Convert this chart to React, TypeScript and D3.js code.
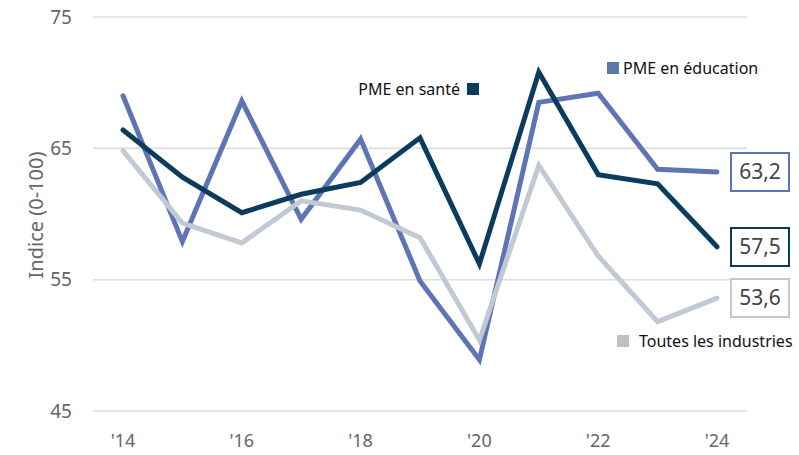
import React from "react";
import * as d3 from "d3";

const years = [2014, 2015, 2016, 2017, 2018, 2019, 2020, 2021, 2022, 2023, 2024];
const education = [69.0, 57.9, 68.6, 59.6, 65.7, 54.9, 48.9, 68.5, 69.2, 63.4, 63.2];
const sante = [66.4, 62.8, 60.1, 61.5, 62.4, 65.8, 56.2, 70.8, 63.0, 62.3, 57.5];
const toutes = [64.8, 59.3, 57.8, 61.0, 60.3, 58.2, 50.4, 63.7, 56.8, 51.8, 53.6];
const yTicks = [45, 55, 65, 75];
const xTicks = [2014, 2016, 2018, 2020, 2022, 2024];

const C_EDU = "#5f74b5";
const C_SANTE = "#0b3c5d";
const C_ALL = "#c1cad4";
const FONT = "'Source Sans Pro', 'Noto Sans', Lato, sans-serif";

export default function App() {
  const W = 799, H = 455;
  const x = d3.scaleLinear().domain([2014, 2024]).range([123, 717]);
  const y = d3.scaleLinear().domain([45, 75]).range([411, 17]);
  const line = d3.line<number>().x((_, i) => x(years[i])).y((d) => y(d));

  const series = [
    { vals: education, color: C_EDU },
    { vals: toutes, color: C_ALL },
    { vals: sante, color: C_SANTE },
  ];
  const boxes = [
    { y0: 153, color: C_EDU, text: "63,2" },
    { y0: 228, color: C_SANTE, text: "57,5" },
    { y0: 279, color: C_ALL, text: "53,6" },
  ];

  return (
    <svg width={W} height={H} style={{ position: "absolute", left: 0, top: 0, fontFamily: FONT }}>
      {yTicks.map((t) => (
        <g key={t}>
          <line x1={93} x2={747} y1={y(t)} y2={y(t)} stroke="#dcdcdc" strokeWidth={1.5} />
          <text x={72} y={y(t)} dy="0.35em" textAnchor="end" fontSize={19} fill="#666">{t}</text>
        </g>
      ))}
      {xTicks.map((t) => (
        <text key={t} x={x(t)} y={441} dy="0.35em" textAnchor="middle" fontSize={18} fill="#666">
          {"'" + String(t).slice(2)}
        </text>
      ))}
      <text transform="translate(36,215) rotate(-90)" textAnchor="middle" dy="0.35em" fontSize={20} fill="#666">
        Indice (0-100)
      </text>
      {series.map((s, i) => (
        <path key={i} d={line(s.vals) || ""} fill="none" stroke={s.color} strokeWidth={5} strokeLinejoin="miter" strokeLinecap="round" />
      ))}
      {boxes.map((b, i) => (
        <g key={i}>
          <rect x={731} y={b.y0} width={58} height={38} fill="#fff" stroke={b.color} strokeWidth={2} />
          <text x={760} y={b.y0 + 19} dy="0.35em" textAnchor="middle" fontSize={21} fill="#444">{b.text}</text>
        </g>
      ))}
      <text x={460} y={89} dy="0.35em" textAnchor="end" fontSize={16} fill="#111">PME en santé</text>
      <rect x={467} y={83} width={12} height={12} fill={C_SANTE} />
      <rect x={607} y={62} width={12} height={12} fill="#5b78aa" />
      <text x={623} y={68} dy="0.35em" fontSize={16} fill="#111">PME en éducation</text>
      <rect x={617} y={335} width={12} height={12} fill="#c0c0c0" />
      <text x={639} y={341} dy="0.35em" fontSize={16} fill="#111">Toutes les industries</text>
    </svg>
  );
}
